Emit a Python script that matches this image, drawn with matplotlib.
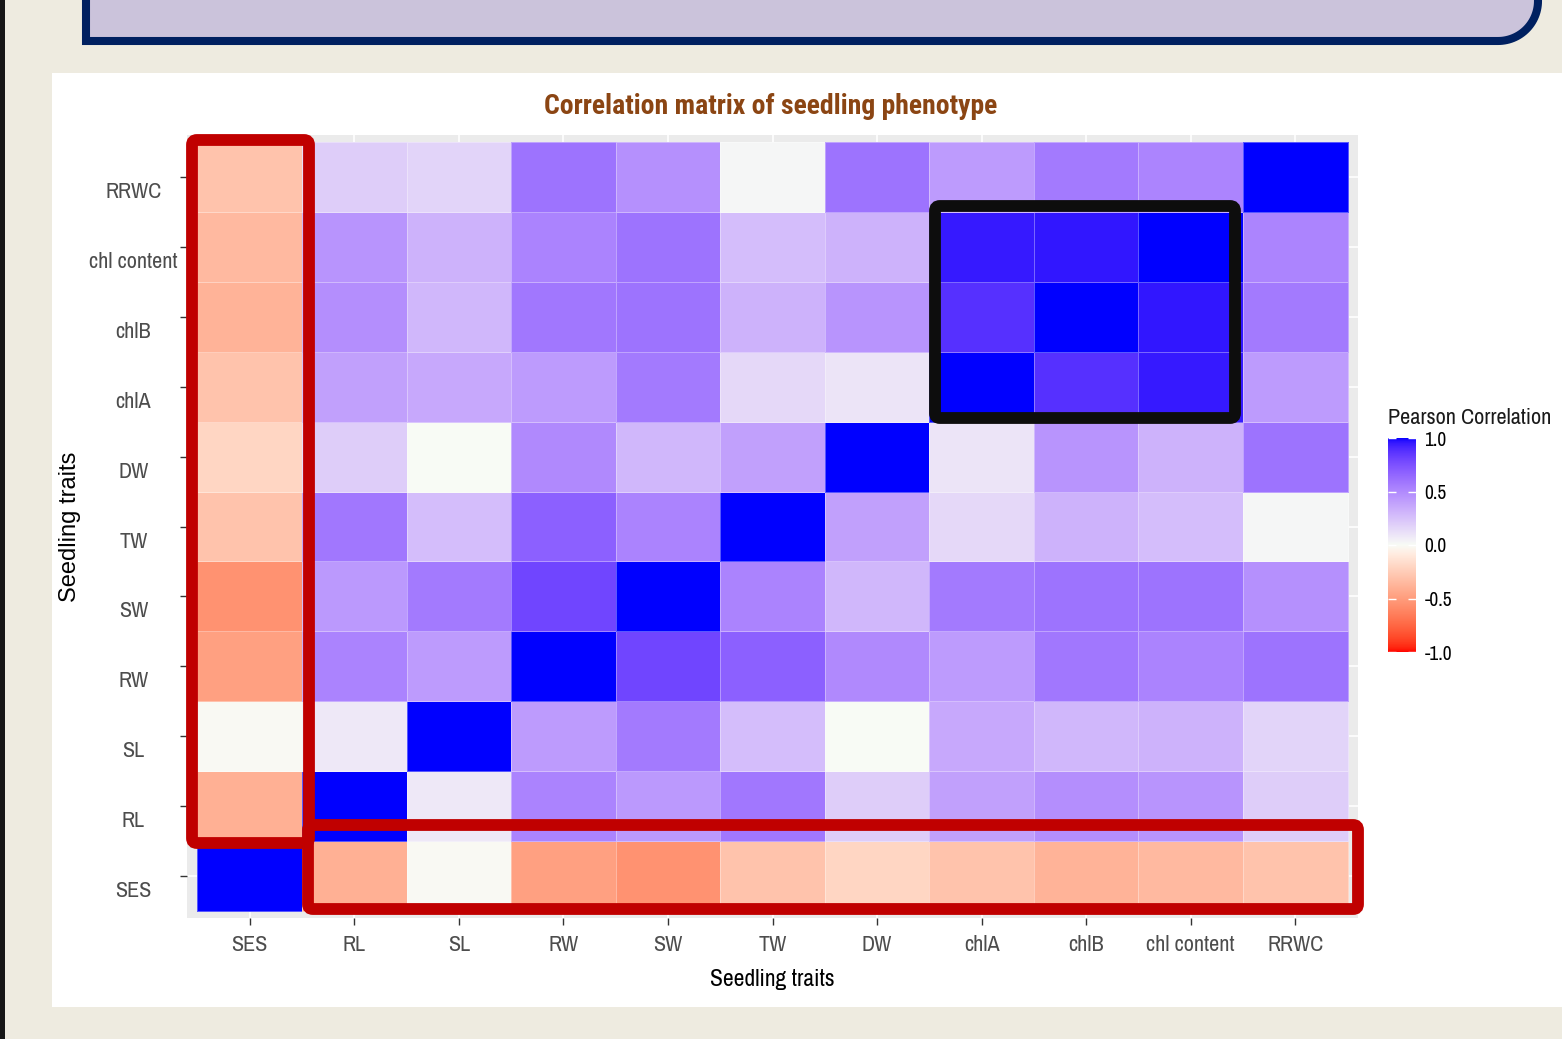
import numpy as np
import matplotlib
matplotlib.use('Agg')
import matplotlib.pyplot as plt
from matplotlib.colors import ListedColormap, Normalize, to_rgb
from matplotlib.patches import FancyBboxPatch, Polygon, Rectangle
from matplotlib.transforms import ScaledTranslation
from matplotlib.cm import ScalarMappable

# trait order, bottom-to-top on y, left-to-right on x
traits = ['SES', 'RL', 'SL', 'RW', 'SW', 'TW', 'DW', 'chlA', 'chlB', 'chl content', 'RRWC']

# lower triangle of the correlation matrix (row vs. earlier traits)
r_RL = [-0.40]
r_SL = [-0.01, 0.08]
r_RW = [-0.48, 0.53, 0.42]
r_SW = [-0.55, 0.43, 0.57, 0.80]
r_TW = [-0.30, 0.58, 0.27, 0.68, 0.53]
r_DW = [-0.20, 0.20, 0.00, 0.50, 0.30, 0.40]
r_chlA = [-0.30, 0.40, 0.36, 0.42, 0.57, 0.15, 0.10]
r_chlB = [-0.38, 0.48, 0.30, 0.58, 0.60, 0.32, 0.45, 0.88]
r_chlc = [-0.35, 0.45, 0.32, 0.53, 0.60, 0.27, 0.32, 0.95, 0.96]
r_RRWC = [-0.30, 0.20, 0.17, 0.60, 0.47, 0.02, 0.60, 0.42, 0.57, 0.52]

cbar_ticks = [-1.0, -0.5, 0.0, 0.5, 1.0]

lower = [[], r_RL, r_SL, r_RW, r_SW, r_TW, r_DW, r_chlA, r_chlB, r_chlc, r_RRWC]
n = len(traits)
corr = np.eye(n)
for i, row in enumerate(lower):
    for j, v in enumerate(row):
        corr[i, j] = v
        corr[j, i] = v


# ggplot-style gradient2 (interpolated in CIELAB)
_M = np.array([[0.4124564, 0.3575761, 0.1804375],
               [0.2126729, 0.7151522, 0.0721750],
               [0.0193339, 0.1191920, 0.9503041]])
_W = np.array([0.95047, 1.0, 1.08883])


def to_lab(c):
    rgb = np.asarray(to_rgb(c), float)
    lin = np.where(rgb <= 0.04045, rgb / 12.92, ((rgb + 0.055) / 1.055) ** 2.4)
    xyz = _M @ lin / _W
    d = 6 / 29
    f = np.where(xyz > d ** 3, np.cbrt(xyz), xyz / (3 * d ** 2) + 4 / 29)
    return np.array([116 * f[1] - 16, 500 * (f[0] - f[1]), 200 * (f[1] - f[2])])


def from_lab(lab):
    L, a, b = lab
    fy = (L + 16) / 116
    f = np.array([fy + a / 500, fy, fy - b / 200])
    d = 6 / 29
    xyz = np.where(f > d, f ** 3, 3 * d ** 2 * (f - 4 / 29)) * _W
    lin = np.clip(np.linalg.solve(_M, xyz), 0, 1)
    rgb = np.where(lin <= 0.0031308, 12.92 * lin, 1.055 * lin ** (1 / 2.4) - 0.055)
    return np.clip(rgb, 0, 1)


lo, mid, hi = to_lab('#FF0000'), to_lab('#F8FBF5'), to_lab('#0000FF')
cols = []
for t in np.linspace(-1, 1, 512):
    end = lo if t < 0 else hi
    cols.append(from_lab(mid + abs(t) * (end - mid)))
cmap = ListedColormap(cols)
norm = Normalize(-1, 1)

narrow = ['Archivo Narrow', 'Roboto Condensed', 'Liberation Sans', 'DejaVu Sans']
narrow_bold = ['Roboto Condensed', 'Asap Condensed', 'Liberation Sans', 'DejaVu Sans']

W, H = 1562, 1039
fig = plt.figure(figsize=(W / 100, H / 100), dpi=100)
fig.patch.set_facecolor('#EEEBE0')

# slide background
bg = fig.add_axes([0, 0, 1, 1])
bg.set_xlim(0, W)
bg.set_ylim(H, 0)
bg.axis('off')
bg.add_patch(Rectangle((52, 73), W - 52, 934, facecolor='white', edgecolor='none'))
bg.add_patch(Rectangle((0, 0), 5, H, facecolor='#161616', edgecolor='none'))
arc = np.linspace(0, np.pi / 2, 30)
top_box = [(86, -60), (86, 41)] + [(1498 + 40 * np.sin(a), 1 + 40 * np.cos(a)) for a in arc] + [(1538, -60)]
bg.add_patch(Polygon(top_box, closed=True, facecolor='#CBC3DB', edgecolor='#002060', lw=5.8))

# heatmap
ax = fig.add_axes([187 / W, 1 - 918 / H, 1171 / W, 783 / H])
ax.set_facecolor('#EBEBEB')
edges = np.arange(n + 1) - 0.5
ax.pcolormesh(edges, edges, corr, cmap=cmap, norm=norm, edgecolors=(1, 1, 1, 0.35), linewidth=0.4, zorder=2)
ax.set_xlim(-0.6, n - 0.4)
ax.set_ylim(-0.6, n - 0.4)
ax.set_xticks(range(n))
ax.set_yticks(range(n))
ax.set_xticklabels(traits, fontsize=16, color='#4D4D4D', family=narrow)
ax.set_yticklabels(traits, fontsize=16, color='#4D4D4D', family=narrow, ha='center')
ax.tick_params(length=5, width=1, color='#333333', pad=7)
ax.grid(True, color='white', lw=1.2, zorder=1)
ax.set_axisbelow(True)
for s in ax.spines.values():
    s.set_visible(False)
shift = ScaledTranslation(-0.37, -0.13, fig.dpi_scale_trans)
for lab in ax.get_yticklabels():
    lab.set_transform(lab.get_transform() + shift)

fig.text(772 / W, 1 - 980 / H, 'Seedling traits', ha='center', va='center',
         fontsize=17, family=narrow, color='black')
fig.text(70 / W, 1 - 527 / H, 'Seedling traits', ha='center', va='center', rotation=90,
         fontsize=17, family=['Liberation Sans', 'DejaVu Sans'], color='black')
fig.text(771 / W, 1 - 106 / H, 'Correlation matrix of seedling phenotype', ha='center', va='center',
         fontsize=20, fontweight='bold', family=narrow_bold, color='#8B4513')

# colour bar
cax = fig.add_axes([1388 / W, 1 - 652 / H, 28 / W, 214 / H])
cb = fig.colorbar(ScalarMappable(norm=norm, cmap=cmap), cax=cax, ticks=cbar_ticks)
cb.outline.set_visible(False)
cax.yaxis.set_ticks_position('both')
cax.tick_params(direction='in', length=6, width=1, color='white',
                labelleft=False, labelright=True, pad=6, labelsize=14)
cb.set_ticklabels([f'{t:.1f}' for t in cbar_ticks])
for lab in cax.get_yticklabels():
    lab.set_family(narrow)
fig.text(1388 / W, 1 - 418 / H, 'Pearson Correlation', ha='left', va='center',
         fontsize=16, family=narrow, color='#1A1A1A')

# highlight boxes
ov = fig.add_axes([0, 0, 1, 1], zorder=10)
ov.set_xlim(0, W)
ov.set_ylim(H, 0)
ov.axis('off')
ov.patch.set_alpha(0)
boxes = [((192, 140), 117, 703, '#C00000'),
         ((308, 825), 1050, 84, '#C00000'),
         ((935, 206), 300, 212, '#0D0D0D')]
for (x0, y0), bw, bh, col in boxes:
    ov.add_patch(FancyBboxPatch((x0, y0), bw, bh, boxstyle='round,pad=0,rounding_size=5',
                                facecolor='none', edgecolor=col, lw=8.5))

fig.savefig('out.png', dpi=100, facecolor=fig.get_facecolor())
